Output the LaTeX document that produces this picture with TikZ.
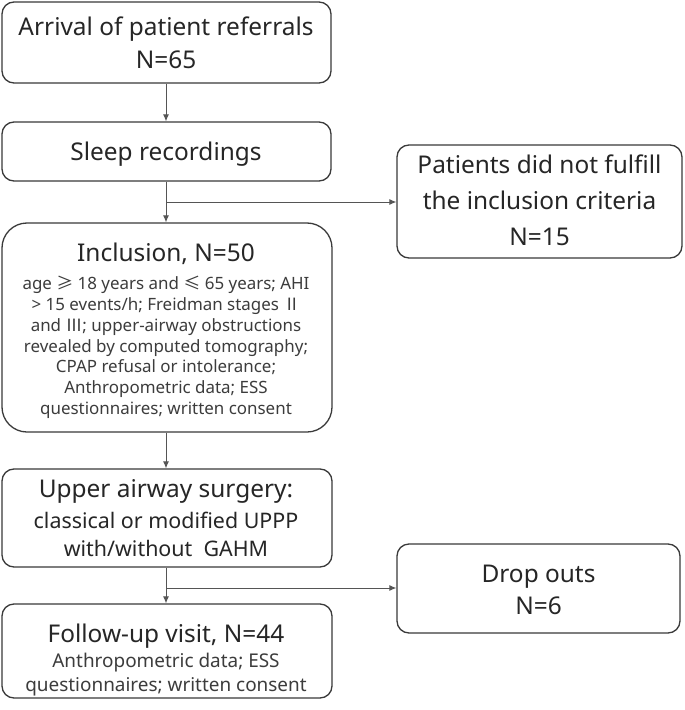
\documentclass[tikz,border=0pt]{standalone}
\usepackage{fontspec}
\setmainfont{Noto Sans}
\newfontfamily\cjk{Noto Sans CJK SC}
\usetikzlibrary{arrows.meta}
\definecolor{boxline}{HTML}{3A3A3A}
\definecolor{conline}{HTML}{555555}
\definecolor{txtc}{HTML}{262626}
\definecolor{smalltxt}{HTML}{3C3C3C}
\begin{document}
\begin{tikzpicture}[x=1bp,y=-1bp,
  box/.style={draw=boxline, line width=1.3bp, rounded corners=12bp, inner sep=0pt},
  ttl/.style={anchor=base, inner sep=0pt, text=txtc, font=\fontsize{24.5}{28}\selectfont},
  sub/.style={anchor=base, inner sep=0pt, text=txtc, font=\fontsize{21.5}{25}\selectfont},
  sml/.style={anchor=base, inner sep=0pt, text=smalltxt, font=\fontsize{17}{20}\selectfont},
  fsm/.style={anchor=base, inner sep=0pt, text=smalltxt, font=\fontsize{19}{22}\selectfont},
  conn/.style={draw=conline, line width=0.9bp, -{Latex[length=7bp,width=6bp]}}]
\useasboundingbox (0,0) rectangle (685,710);
\fill[white] (0,0) rectangle (685,710);

% boxes
\node[box, minimum width=329bp, minimum height=81bp] (arr) at (166.5,42.5) {};
\node[box, minimum width=329bp, minimum height=59bp] (sleep) at (166.5,151.5) {};
\node[box, minimum width=285bp, minimum height=113bp] (pat) at (539.5,201.5) {};
\node[box, rounded corners=25bp, minimum width=330bp, minimum height=209bp] (inc) at (167,327.5) {};
\node[box, minimum width=330bp, minimum height=98bp] (surg) at (167,518) {};
\node[box, minimum width=283bp, minimum height=89bp] (drop) at (538.5,588.5) {};
\node[box, minimum width=330bp, minimum height=94bp] (fol) at (167,651) {};

% texts
\node[ttl] (arr1) at (166,36) {Arrival of patient referrals};
\node[ttl] (arr2) at (166,69) {N=65};
\node[ttl] (sl1) at (166,160) {Sleep recordings};
\node[ttl] (pa1) at (539.5,173) {Patients did not fulfill};
\node[ttl] (pa2) at (539.5,209) {the inclusion criteria};
\node[ttl] (pa3) at (539.5,245) {N=15};
\node[ttl] (in0) at (166,261) {Inclusion, N=50};
\node[sml] (in1) at (166,289) {age {\cjk ≥} 18 years and {\cjk ≤} 65 years; AHI};
\node[sml] (in2) at (166,310) {> 15 events/h; Freidman stages {\cjk Ⅱ}};
\node[sml] (in3) at (166,331) {and {\cjk Ⅲ}; upper-airway obstructions};
\node[sml] (in4) at (166,352) {revealed by computed tomography;};
\node[sml] (in5) at (166,372) {CPAP refusal or intolerance;};
\node[sml] (in6) at (166,393) {Anthropometric data; ESS};
\node[sml] (in7) at (166,414) {questionnaires; written consent};
\node[ttl] (su1) at (166,497) {Upper airway surgery:};
\node[sub] (su2) at (166,528) {classical or modified UPPP};
\node[sub] (su3) at (166,556) {with/without~ GAHM};
\node[ttl] (dr1) at (538.5,582.5) {Drop outs};
\node[ttl] (dr2) at (538.5,614) {N=6};
\node[ttl] (fo1) at (166,642) {Follow-up visit, N=44};
\node[fsm] (fo2) at (166,667) {Anthropometric data; ESS};
\node[fsm] (fo3) at (166,691) {questionnaires; written consent};

% connectors
\coordinate (b1) at (166,202);
\coordinate (b2) at (166,588);
\draw[conn] (arr.south -| b1) -- (sleep.north -| b1);
\draw[conn] (sleep.south -| b1) -- (inc.north -| b1);
\draw[conn] (b1) -- (pat.west |- b1);
\draw[conn] (inc.south -| b1) -- (surg.north -| b1);
\draw[conn] (surg.south -| b2) -- (fol.north -| b2);
\draw[conn] (b2) -- (drop.west |- b2);
\end{tikzpicture}
\end{document}
